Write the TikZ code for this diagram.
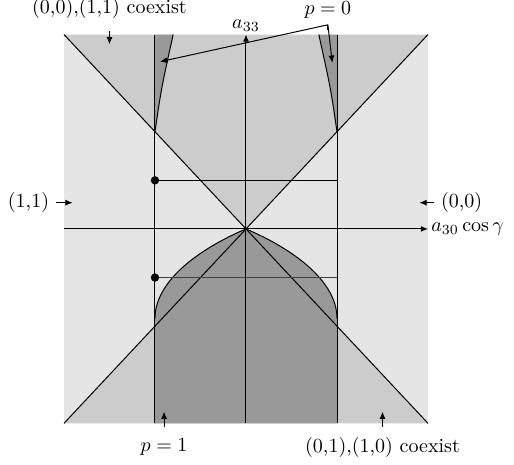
\documentclass[tikz,border=0pt]{standalone}
\usepackage{amsmath, amssymb}
\usetikzlibrary{arrows.meta}
\usetikzlibrary{positioning}

\begin{document}
\begin{tikzpicture}[
		x=45.5pt, y=48.6pt,
		light/.style	= {fill=black!10},
		mid/.style		= {fill=black!20},
		dark/.style		= {fill=black!40},
		ln/.style		= {line width=0.5pt},
		r/.style		= {-{Latex[length=3.6pt,width=3pt]}, line width=0.5pt},
		dot/.style		= {circle, fill=black, inner sep=0pt, minimum size=4.2pt}
		]
		\useasboundingbox (-2.703,-2.427) rectangle (2.945,2.355);
		
		
		% === === Regions === ===
		\fill[light]	(-2,-2) rectangle (2,2);
		\fill[mid]		(-2,2) -- (0,0) -- (2,2) -- cycle;
		\fill[mid]		(-2,-2) -- (0,0) -- (2,-2) -- cycle;
		\fill[dark]		(-1,2) -- (-1,1) .. controls (-0.93,1.45) .. (-0.8,2) -- cycle;
		\fill[dark]		(1,2) -- (1,1) .. controls (0.93,1.45) .. (0.8,2) -- cycle;
		\fill[dark]		(-1,-2) -- (-1,-0.92) .. controls (-1,-0.55) and (-0.55,-0.22) .. (0,0)
						.. controls (0.55,-0.22) and (1,-0.55) .. (1,-0.92) -- (1,-2) -- cycle;
		
		
		% === === Curves === ===
		\draw[ln]	(-1,1) .. controls (-0.93,1.45) .. (-0.8,2);
		\draw[ln]	(1,1) .. controls (0.93,1.45) .. (0.8,2);
		\draw[ln]	(-1,-0.92) .. controls (-1,-0.55) and (-0.55,-0.22) .. (0,0)
					.. controls (0.55,-0.22) and (1,-0.55) .. (1,-0.92);
		
		
		% === === Lines === ===
		\draw[ln]	(-2,2) -- (2,-2);
		\draw[ln]	(-2,-2) -- (2,2);
		\draw[ln]	(-1,-2) -- (-1,2);
		\draw[ln]	(1,-2) -- (1,2);
		\draw[ln]	(-1,0.5) -- (1,0.5);
		\draw[ln, black!75]	(-1,-0.5) -- (1,-0.5);
		\node[dot]	(d1)	at	(-1,0.5)	{};
		\node[dot]	(d2)	at	(-1,-0.5)	{};
		
		
		% === === Axes === ===
		\coordinate	(xend)	at	(2,0);
		\coordinate	(yend)	at	(0,2);
		\node[right=1.5pt of xend, inner sep=0pt]	(xlab)	{$a_{30}\cos\gamma$};
		\node[above=1.5pt of yend, inner sep=0pt]	(ylab)	{$a_{33}$};
		\draw[r]	(-2,0) -- (xend);
		\draw[r]	(0,-2) -- (yend);
		
		
		% === === Labels === ===
		\node	(coex1)	at	(-1.5,2.27)		{(0,0),(1,1) coexist};
		\node	(pzero)	at	(0.9,2.25)		{$p=0$};
		\node	(oneone)	at	(-2.39,0.27)	{(1,1)};
		\node	(zerozero)	at	(2.37,0.27)	{(0,0)};
		\node	(pone)	at	(-0.9,-2.24)	{$p=1$};
		\node	(coex2)	at	(1.5,-2.25)		{(0,1),(1,0) coexist};
		
		\coordinate	(c1)	at	(-1.5,1.9);
		\coordinate	(pj)	at	(0.9,2.1);
		\coordinate	(pl)	at	(-0.945,1.72);
		\coordinate	(pr)	at	(0.948,1.71);
		\coordinate	(o1)	at	(-1.905,0.27);
		\coordinate	(z1)	at	(1.905,0.27);
		\coordinate	(p1)	at	(-0.9,-1.88);
		\coordinate	(c2)	at	(1.5,-1.88);
		
		
		% === === Arrows === ===
		\draw[r]	(coex1.south)	++(0,-0.06)	-- (c1);
		\draw[ln]	(pzero.south)	++(0,-0.04)	-- (pj);
		\draw[r]	(pj)	--	(pl);
		\draw[r]	(pj)	--	(pr);
		\draw[r]	(oneone.east)	--	(o1);
		\draw[r]	(zerozero.west)	--	(z1);
		\draw[r]	(pone.north)	++(0,0.04)	-- (p1);
		\draw[r]	(coex2.north)	++(0,0.04)	-- (c2);
		
		
	\end{tikzpicture}
\end{document}
